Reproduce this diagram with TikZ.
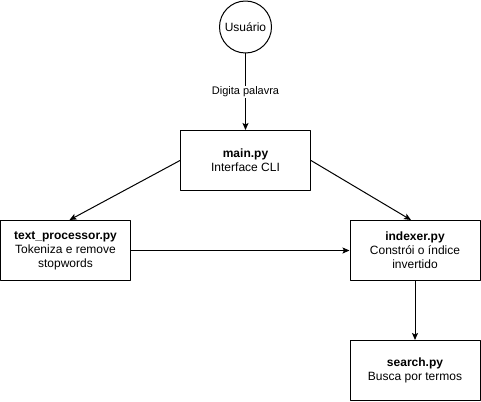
\documentclass[tikz,border=0pt]{standalone}
\usepackage{fontspec}
\setmainfont{Liberation Sans}
\usetikzlibrary{arrows.meta}
\begin{document}
\begin{tikzpicture}[x=1pt,y=-1pt,line join=round,>={Stealth[length=7pt,width=6pt,inset=1.5pt]},line width=1pt]
			\tikzset{modbox/.style={draw,rectangle,minimum width=130pt,minimum height=60pt,align=center,font=\fontsize{12}{14}\selectfont,inner sep=2pt},
				elabel/.style={fill=white,font=\fontsize{11}{13}\selectfont,inner sep=1pt}}
			\useasboundingbox (0,0) rectangle (481,401);
			\node[draw,circle,minimum size=52pt,inner sep=0pt,font=\fontsize{12}{14}\selectfont] (user) at (245.5,27) {Usuário};
			\node[modbox] (main) at (245.5,160.5) {\textbf{main.py}\\Interface CLI};
			\node[modbox] (tp) at (65.5,250.5) {\textbf{text\_processor.py}\\Tokeniza e remove\\stopwords};
			\node[modbox] (idx) at (415,250.5) {\textbf{indexer.py}\\Constrói o índice\\invertido};
			\node[modbox] (srch) at (415,370.5) {\textbf{search.py}\\Busca por termos};
			\draw[->] (user) -- node[elabel] {Digita palavra} (main);
			\draw[->] (main.west) -- ([xshift=4pt]tp.north);
			\draw[->] (main.east) -- ([xshift=-4pt]idx.north);
			\draw[->] (tp) -- (idx);
			\draw[->] (idx) -- (srch);
\end{tikzpicture}
\end{document}
